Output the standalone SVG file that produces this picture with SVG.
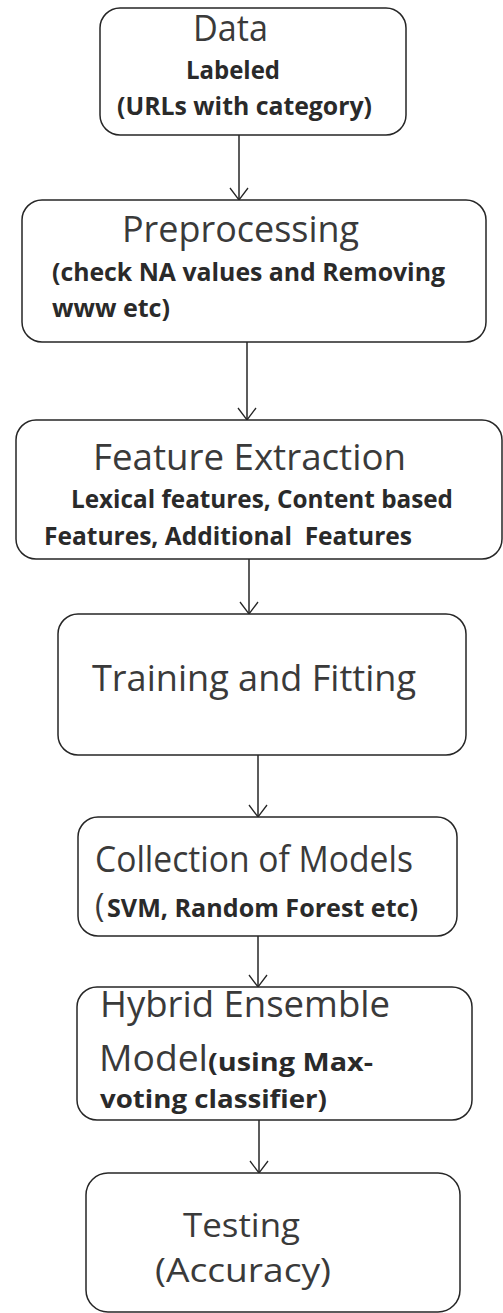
<svg xmlns="http://www.w3.org/2000/svg" width="503" height="1313" viewBox="0 0 503 1313">
<style>
.box{fill:#fff;stroke:#262626;stroke-width:1.5}
.conn{fill:none;stroke:#262626;stroke-width:1.5}
.r{font-family:"Open Sans","Noto Sans",sans-serif;font-size:37px;fill:#3a3a3a}
.r2{font-family:"Open Sans","Noto Sans",sans-serif;font-size:32px;fill:#3a3a3a}
.b{font-family:"Open Sans","Noto Sans",sans-serif;font-size:25px;font-weight:bold;fill:#2a2a2a}
</style>
<defs>
<marker id="arr" markerUnits="userSpaceOnUse" markerWidth="30" markerHeight="30" refX="0" refY="0" viewBox="-15 -15 30 30" orient="auto" overflow="visible">
<path d="M-12,-9 L0,0 L-12,9" fill="none" stroke="#262626" stroke-width="1.3"/>
</marker>
</defs>
<rect width="503" height="1313" fill="#fff"/>
<g id="connectors">
<line class="conn" x1="239" y1="135" x2="239" y2="200" marker-end="url(#arr)"/>
<line class="conn" x1="247" y1="342" x2="247" y2="420" marker-end="url(#arr)"/>
<line class="conn" x1="249" y1="559" x2="249" y2="614" marker-end="url(#arr)"/>
<line class="conn" x1="258" y1="755" x2="258" y2="817" marker-end="url(#arr)"/>
<line class="conn" x1="258" y1="936" x2="258" y2="987" marker-end="url(#arr)"/>
<line class="conn" x1="259" y1="1120" x2="259" y2="1173" marker-end="url(#arr)"/>
</g>
<g id="data">
<rect class="box" x="100" y="8" width="306" height="127" rx="20"/>
<text class="r" x="193" y="41" textLength="75" lengthAdjust="spacingAndGlyphs">Data</text>
<text class="b" x="186" y="79" textLength="94" lengthAdjust="spacingAndGlyphs">Labeled</text>
<text class="b" x="117" y="115" textLength="255" lengthAdjust="spacingAndGlyphs">(URLs with category)</text>
</g>
<g id="preprocessing">
<rect class="box" x="22" y="200" width="464" height="142" rx="20"/>
<text class="r" x="122" y="242" textLength="237" lengthAdjust="spacingAndGlyphs">Preprocessing</text>
<text class="b" x="52" y="281" textLength="393" lengthAdjust="spacingAndGlyphs">(check NA values and Removing</text>
<text class="b" x="52" y="317" textLength="118" lengthAdjust="spacingAndGlyphs">www etc)</text>
</g>
<g id="feature-extraction">
<rect class="box" x="16" y="420" width="486" height="139" rx="20"/>
<text class="r" x="93" y="470" textLength="313" lengthAdjust="spacingAndGlyphs">Feature Extraction</text>
<text class="b" x="71" y="508" textLength="382" lengthAdjust="spacingAndGlyphs">Lexical features, Content based</text>
<text class="b" x="44" y="545" textLength="368" lengthAdjust="spacingAndGlyphs" xml:space="preserve">Features, Additional  Features</text>
</g>
<g id="training">
<rect class="box" x="58" y="614" width="408" height="141" rx="20"/>
<text class="r" x="92" y="691" textLength="324" lengthAdjust="spacingAndGlyphs">Training and Fitting</text>
</g>
<g id="collection">
<rect class="box" x="78" y="817" width="379" height="119" rx="20"/>
<text class="r" x="95" y="872" textLength="318" lengthAdjust="spacingAndGlyphs">Collection of Models</text>
<text class="r2" x="95" y="917">(</text>
<text class="b" x="107" y="917" textLength="311" lengthAdjust="spacingAndGlyphs">SVM, Random Forest etc)</text>
</g>
<g id="hybrid">
<rect class="box" x="77" y="987" width="395" height="133" rx="20"/>
<text class="r" x="100" y="1017" textLength="290" lengthAdjust="spacingAndGlyphs">Hybrid Ensemble</text>
<text class="r" x="99" y="1071" textLength="109" lengthAdjust="spacingAndGlyphs">Model</text>
<text class="b" x="208" y="1071" textLength="165" lengthAdjust="spacingAndGlyphs">(using Max-</text>
<text class="b" x="100" y="1108" textLength="227" lengthAdjust="spacingAndGlyphs">voting classifier)</text>
</g>
<g id="testing">
<rect class="box" x="86" y="1173" width="374" height="139" rx="22"/>
<text class="r2" x="183" y="1237" textLength="117" lengthAdjust="spacingAndGlyphs">Testing</text>
<text class="r2" x="155" y="1282" textLength="176" lengthAdjust="spacingAndGlyphs">(Accuracy)</text>
</g>
</svg>
